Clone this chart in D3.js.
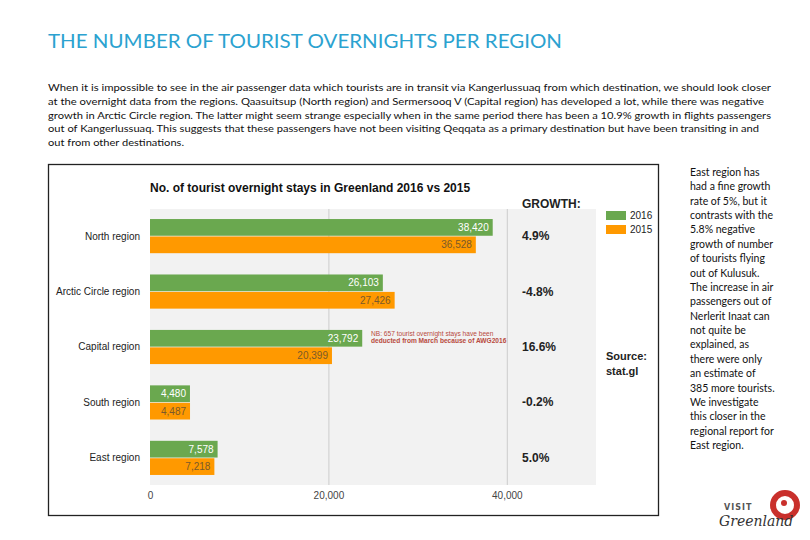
<!DOCTYPE html>
<html>
<head>
<meta charset="utf-8">
<script src="https://cdn.jsdelivr.net/npm/d3@7"></script>
<style>
  body { margin: 0; background: #fff; }
  svg { display: block; }
</style>
</head>
<body>
<div id="chart"></div>
<script>
const regions = ["North region", "Arctic Circle region", "Capital region", "South region", "East region"];
const years = ["2016", "2015"];
const values2016 = [38420, 26103, 23792, 4480, 7578];
const values2015 = [36528, 27426, 20399, 4487, 7218];
const growth = ["4.9%", "-4.8%", "16.6%", "-0.2%", "5.0%"];
const xTicks = [0, 20000, 40000];

const pageTitle = "THE NUMBER OF TOURIST OVERNIGHTS PER REGION";
const introLines = [
  "When it is impossible to see in the air passenger data which tourists are in transit via Kangerlussuaq from which destination, we should look closer",
  "at the overnight data from the regions. Qaasuitsup (North region) and Sermersooq V (Capital region) has developed a lot, while there was negative",
  "growth in Arctic Circle region. The latter might seem strange especially when in the same period there has been a 10.9% growth in flights passengers",
  "out of Kangerlussuaq. This suggests that these passengers have not been visiting Qeqqata as a primary destination but have been transiting in and",
  "out from other destinations."
];
const introWidths = [723, 716, 723, 711, 136];
const sideLines = [
  "East region has", "had a fine growth", "rate of 5%, but it", "contrasts with the",
  "5.8% negative", "growth of number", "of tourists flying", "out of Kulusuk.",
  "The increase in air", "passengers out of", "Nerlerit Inaat can", "not quite be",
  "explained, as", "there were only", "an estimate of", "385 more tourists.",
  "We investigate", "this closer in the", "regional report for", "East region."
];
const chartTitle = "No. of tourist overnight stays in Greenland 2016 vs 2015";
const noteLines = ["NB: 657 tourist overnight stays have been", "deducted from March because of AWG2016"];

const width = 810, height = 540;
const green = "#6aa84f", orange = "#ff9900";

const svg = d3.select("#chart")
  .append("svg")
  .attr("width", width)
  .attr("height", height);

// page title + intro text
svg.append("text")
  .attr("x", 48)
  .attr("y", 48)
  .attr("textLength", 514)
  .attr("lengthAdjust", "spacingAndGlyphs")
  .style("font-family", "Lato, 'Open Sans', sans-serif")
  .style("font-size", "19px")
  .style("fill", "#2ba2d0")
  .text(pageTitle);

svg.append("g")
  .selectAll("text")
  .data(introLines)
  .enter()
  .append("text")
  .attr("x", 48)
  .attr("y", (d, i) => 91 + i * 13.8)
  .attr("textLength", (d, i) => introWidths[i])
  .attr("lengthAdjust", "spacingAndGlyphs")
  .style("font-family", "Lato, 'Open Sans', sans-serif")
  .style("font-size", "10px")
  .style("fill", "#111")
  .text((d) => d);

svg.append("g")
  .selectAll("text")
  .data(sideLines)
  .enter()
  .append("text")
  .attr("x", 690)
  .attr("y", (d, i) => 176 + i * 14.37)
  .style("font-family", "Lato, 'Open Sans', sans-serif")
  .style("font-size", "10.5px")
  .style("fill", "#111")
  .text((d) => d);

// chart frame
svg.append("rect")
  .attr("x", 48.5)
  .attr("y", 164.5)
  .attr("width", 610)
  .attr("height", 351)
  .attr("fill", "#fff")
  .attr("stroke", "#222")
  .attr("stroke-width", 1.3);

const plot = { left: 150, right: 596, top: 209, bottom: 485 };

const x = d3.scaleLinear().domain([0, 50000]).range([plot.left, plot.right]);
const y = d3.scaleBand()
  .domain(regions)
  .range([plot.top, plot.bottom])
  .paddingInner(0.384)
  .paddingOuter(0.181);
const yInner = d3.scaleBand()
  .domain(years)
  .range([0, y.bandwidth()])
  .paddingInner(0.04);

svg.append("rect")
  .attr("x", plot.left)
  .attr("y", plot.top)
  .attr("width", plot.right - plot.left)
  .attr("height", plot.bottom - plot.top)
  .attr("fill", "#f2f2f2");

svg.append("g")
  .selectAll("line")
  .data(xTicks.slice(1))
  .enter()
  .append("line")
  .attr("x1", (d) => x(d) + 0.5)
  .attr("x2", (d) => x(d) + 0.5)
  .attr("y1", plot.top)
  .attr("y2", plot.bottom)
  .attr("stroke", "#cccccc");

const axis = svg.append("g")
  .attr("transform", `translate(0, ${plot.bottom})`)
  .call(d3.axisBottom(x).tickValues(xTicks).tickFormat(d3.format(",")).tickSize(0).tickPadding(7));
axis.select(".domain").remove();
axis.selectAll("text")
  .style("font-family", "Arial, 'Liberation Sans', sans-serif")
  .style("font-size", "10px")
  .style("fill", "#444");

const rows = regions.map((r, i) => ({
  region: r,
  bars: [
    { year: "2016", value: values2016[i] },
    { year: "2015", value: values2015[i] }
  ],
  growth: growth[i]
}));

const groups = svg.append("g")
  .selectAll("g")
  .data(rows)
  .enter()
  .append("g")
  .attr("transform", (d) => `translate(0, ${y(d.region)})`);

groups.selectAll("rect")
  .data((d) => d.bars)
  .enter()
  .append("rect")
  .attr("x", x(0))
  .attr("y", (d) => yInner(d.year))
  .attr("width", (d) => x(d.value) - x(0))
  .attr("height", yInner.bandwidth())
  .attr("fill", (d) => (d.year === "2016" ? green : orange));

groups.selectAll("text.val")
  .data((d) => d.bars)
  .enter()
  .append("text")
  .attr("class", "val")
  .attr("x", (d) => x(d.value) - 4)
  .attr("y", (d) => yInner(d.year) + yInner.bandwidth() / 2 + 3.6)
  .attr("text-anchor", "end")
  .style("font-family", "Arial, 'Liberation Sans', sans-serif")
  .style("font-size", "10px")
  .style("fill", (d) => (d.year === "2016" ? "#ffffff" : "#7a5a2a"))
  .text((d) => d3.format(",")(d.value));

// region labels
groups.append("text")
  .attr("x", 140)
  .attr("y", y.bandwidth() / 2 + 3.5)
  .attr("text-anchor", "end")
  .style("font-family", "Arial, 'Liberation Sans', sans-serif")
  .style("font-size", "10px")
  .style("fill", "#222")
  .text((d) => d.region);

// growth column
groups.append("text")
  .attr("x", 522)
  .attr("y", y.bandwidth() / 2 + 4)
  .style("font-family", "Arial, 'Liberation Sans', sans-serif")
  .style("font-size", "12px")
  .style("font-weight", "bold")
  .style("fill", "#222")
  .text((d) => d.growth);

svg.append("text")
  .attr("x", 522)
  .attr("y", 208)
  .style("font-family", "Arial, 'Liberation Sans', sans-serif")
  .style("font-size", "12px")
  .style("font-weight", "bold")
  .style("fill", "#222")
  .text("GROWTH:");

// chart title
svg.append("text")
  .attr("x", 150)
  .attr("y", 192)
  .style("font-family", "Arial, 'Liberation Sans', sans-serif")
  .style("font-size", "12px")
  .style("font-weight", "bold")
  .style("fill", "#111")
  .text(chartTitle);

// note next to capital region
svg.append("g")
  .selectAll("text")
  .data(noteLines)
  .enter()
  .append("text")
  .attr("x", 371)
  .attr("y", (d, i) => y("Capital region") + 6.5 + i * 6.8)
  .style("font-family", "Arial, 'Liberation Sans', sans-serif")
  .style("font-size", "6.6px")
  .style("font-weight", (d, i) => (i === 1 ? "bold" : "normal"))
  .style("fill", "#b84a40")
  .text((d) => d);

// legend
const legend = svg.append("g")
  .selectAll("g")
  .data(years)
  .enter()
  .append("g")
  .attr("transform", (d, i) => `translate(606, ${211 + i * 14})`);
legend.append("rect")
  .attr("width", 20)
  .attr("height", 9)
  .attr("fill", (d) => (d === "2016" ? green : orange));
legend.append("text")
  .attr("x", 24)
  .attr("y", 8)
  .style("font-family", "Arial, 'Liberation Sans', sans-serif")
  .style("font-size", "10px")
  .style("fill", "#222")
  .text((d) => d);

// source
svg.append("text")
  .attr("x", 606)
  .attr("y", 360)
  .style("font-family", "Arial, 'Liberation Sans', sans-serif")
  .style("font-size", "11px")
  .style("font-weight", "bold")
  .style("fill", "#222")
  .text("Source:");
svg.append("text")
  .attr("x", 606)
  .attr("y", 375)
  .style("font-family", "Arial, 'Liberation Sans', sans-serif")
  .style("font-size", "11px")
  .style("font-weight", "bold")
  .style("fill", "#222")
  .text("stat.gl");

// Visit Greenland logo
const logo = svg.append("g");
logo.append("circle")
  .attr("cx", 785)
  .attr("cy", 505)
  .attr("r", 12)
  .attr("fill", "none")
  .attr("stroke", "#c9302c")
  .attr("stroke-width", 6);
logo.append("circle")
  .attr("cx", 784)
  .attr("cy", 503)
  .attr("r", 3)
  .attr("fill", "#c9302c");
logo.append("text")
  .attr("x", 724)
  .attr("y", 510)
  .style("font-family", "'DejaVu Sans', sans-serif")
  .style("font-size", "8px")
  .style("font-weight", "bold")
  .style("letter-spacing", "1px")
  .style("fill", "#555")
  .text("VISIT");
logo.append("text")
  .attr("x", 719)
  .attr("y", 526)
  .style("font-family", "'DejaVu Serif', serif")
  .style("font-size", "14px")
  .style("font-style", "italic")
  .style("fill", "#333")
  .text("Greenland");
</script>
</body>
</html>
